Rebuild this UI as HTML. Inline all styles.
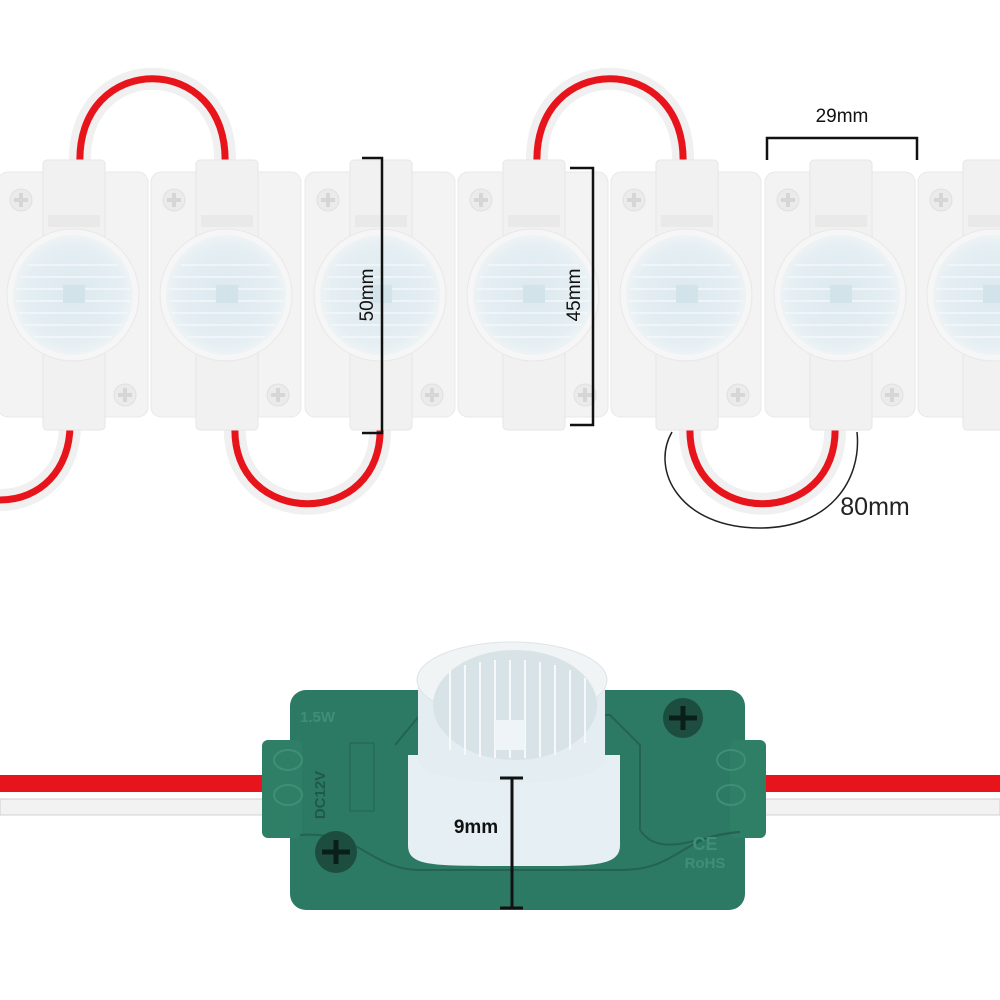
<!DOCTYPE html>
<html><head><meta charset="utf-8"><style>
html,body{margin:0;padding:0;background:#fff;}
svg{display:block;font-family:"Liberation Sans",sans-serif;}
</style></head><body>
<svg width="1000" height="1000" viewBox="0 0 1000 1000">
<defs>
<radialGradient id="lens" cx="50%" cy="50%" r="50%">
<stop offset="0" stop-color="#dde9ef"/><stop offset="0.8" stop-color="#e4eef3"/><stop offset="1" stop-color="#eef3f5"/>
</radialGradient>
<g id="mod">
<rect x="0" y="17" width="150" height="245" rx="10" fill="#f3f3f3" stroke="#e8e8e8"/>
<rect x="45" y="5" width="62" height="270" rx="4" fill="#f1f1f1" stroke="#e6e6e6"/>
<rect x="50" y="60" width="52" height="12" fill="#e9e9e9"/>
<circle cx="23" cy="45" r="11" fill="#ebebeb" stroke="#e0e0e0"/>
<path d="M23 38v14M16 45h14" stroke="#d6d6d6" stroke-width="4"/>
<circle cx="127" cy="240" r="11" fill="#ebebeb" stroke="#e0e0e0"/>
<path d="M127 233v14M120 240h14" stroke="#d6d6d6" stroke-width="4"/>
<circle cx="75" cy="140" r="66" fill="#f6f6f6" stroke="#e8e8e8"/>
<circle cx="75" cy="140" r="60" fill="url(#lens)"/>
<g stroke="#f3f7f9" stroke-width="1.5">
<path d="M30 110h90M22 122h106M18 134h114M18 146h114M20 158h110M26 170h98M36 182h78"/>
</g>
<rect x="65" y="130" width="22" height="18" fill="#d3e3ea"/>
</g>
</defs>

<g fill="none" stroke-linecap="round">
<g stroke="#f0f0f0" stroke-width="22">
<path d="M80 165 C75 50 230 50 225 165"/>
<path d="M537 165 C532 50 688 50 683 165"/>
<path d="M235 425 C230 530 385 530 380 425"/>
<path d="M690 425 C685 530 840 530 835 425"/>
<path d="M70 425 C70 470 40 500 0 500"/>
</g>
<g stroke="#e8141b" stroke-width="7">
<path d="M80 165 C75 50 230 50 225 165"/>
<path d="M537 165 C532 50 688 50 683 165"/>
<path d="M235 425 C230 530 385 530 380 425"/>
<path d="M690 425 C685 530 840 530 835 425"/>
<path d="M70 425 C70 470 40 500 0 500"/>
</g>
</g>

<use href="#mod" x="-2" y="155"/>
<use href="#mod" x="151" y="155"/>
<use href="#mod" x="305" y="155"/>
<use href="#mod" x="458" y="155"/>
<use href="#mod" x="611" y="155"/>
<use href="#mod" x="765" y="155"/>
<use href="#mod" x="918" y="155"/>

<g stroke="#111" stroke-width="2.5" fill="none">
<path d="M362 158H382V433H362"/>
<path d="M570 168H593V425H570"/>
<path d="M767 160V138H917V160"/>
</g>
<path d="M672 432 C650 470 680 528 760 528 C830 528 862 480 857 432" fill="none" stroke="#222" stroke-width="1.5"/>
<text x="0" y="0" transform="translate(373,295) rotate(-90)" text-anchor="middle" font-size="19" fill="#111">50mm</text>
<text x="0" y="0" transform="translate(580,295) rotate(-90)" text-anchor="middle" font-size="19" fill="#111">45mm</text>
<text x="842" y="122" text-anchor="middle" font-size="19" fill="#111">29mm</text>
<text x="875" y="515" text-anchor="middle" font-size="25" fill="#222">80mm</text>

<rect x="0" y="775" width="1000" height="17" fill="#e8141b"/>
<rect x="0" y="799" width="1000" height="16" fill="#f2f2f2" stroke="#d0d0d0"/>

<rect x="290" y="690" width="455" height="220" rx="16" fill="#2c7a63"/>
<rect x="262" y="740" width="40" height="98" rx="6" fill="#2f7f67"/>
<rect x="730" y="740" width="36" height="98" rx="6" fill="#2f7f67"/>
<path d="M395 745 L420 715 H610 L640 745 V830 C660 860 700 835 740 832" fill="none" stroke="#24634f" stroke-width="2"/>
<path d="M300 835 C360 830 370 870 420 870 H620 C680 870 680 835 740 832" fill="none" stroke="#24634f" stroke-width="2"/>
<text x="300" y="722" font-size="15" font-weight="bold" fill="#3f8f76">1.5W</text>
<text x="0" y="0" transform="translate(325,795) rotate(-90)" text-anchor="middle" font-size="15" font-weight="bold" fill="#1f5947">DC12V</text>
<rect x="350" y="743" width="24" height="68" fill="none" stroke="#24634f"/>
<g fill="none" stroke="#3f8f76" stroke-width="2">
<ellipse cx="288" cy="760" rx="14" ry="10"/><ellipse cx="288" cy="795" rx="14" ry="10"/>
<ellipse cx="731" cy="760" rx="14" ry="10"/><ellipse cx="731" cy="795" rx="14" ry="10"/>
</g>
<circle cx="336" cy="852" r="21" fill="#1d4d3f"/>
<path d="M336 840v24M322 852h28" stroke="#0b1f19" stroke-width="5"/>
<circle cx="683" cy="718" r="20" fill="#1d4d3f"/>
<path d="M683 706v24M669 718h28" stroke="#0b1f19" stroke-width="5"/>
<text x="705" y="850" text-anchor="middle" font-size="18" font-weight="bold" fill="#3f8f76">CE</text>
<text x="705" y="868" text-anchor="middle" font-size="15" font-weight="bold" fill="#3f8f76">RoHS</text>

<path d="M408 755 H620 V845 C620 868 590 866 510 866 C430 866 408 866 408 845 Z" fill="#e6f0f4"/>
<path d="M418 680 V760 C418 790 605 790 605 760 V680 Z" fill="#e4edf1"/>
<ellipse cx="512" cy="680" rx="95" ry="38" fill="#f0f4f5" stroke="#dde5e8"/>
<ellipse cx="515" cy="705" rx="82" ry="55" fill="#d8e3e8"/>
<g stroke="#f6f8fa" stroke-width="2">
<path d="M450 670v80M465 665v90M480 662v95M495 660v98M510 660v98M525 660v98M540 662v95M555 665v90M570 670v80M585 678v65"/>
</g>
<rect x="495" y="720" width="30" height="30" fill="#eef4f7"/>

<path d="M500 778H523M512 778V908M500 908H523" stroke="#111" stroke-width="3" fill="none"/>
<text x="476" y="833" text-anchor="middle" font-size="19" font-weight="bold" fill="#111">9mm</text>
</svg>
</body></html>
